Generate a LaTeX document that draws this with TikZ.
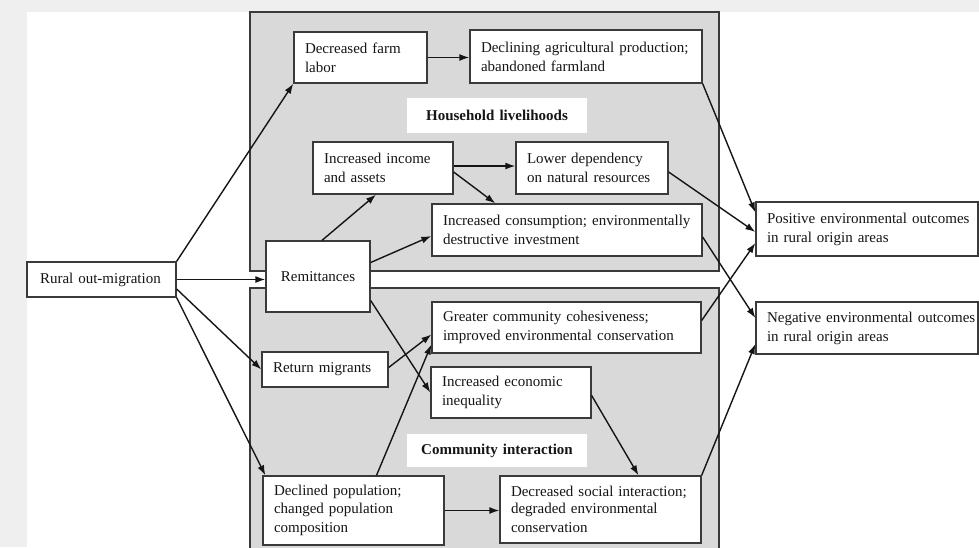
\documentclass[tikz,border=0pt]{standalone}
\usepackage{fontspec}
\setmainfont{Liberation Serif}
\usetikzlibrary{arrows.meta,calc}
\definecolor{outerbg}{HTML}{EFEFEF}
\definecolor{panel}{HTML}{D9D9D9}
\definecolor{edge}{HTML}{3A3A3A}
\definecolor{ink}{HTML}{151515}
\newcommand\bx[7][bx]{%
  \pgfmathsetmacro\bxw{#5-#3}%
  \pgfmathsetmacro\bxh{#6-#4}%
  \pgfmathsetmacro\bxtw{#5-#3-22}%
  \node[#1, minimum width=\bxw pt, minimum height=\bxh pt, text width=\bxtw pt]
    (#2) at ({(#3+#5)/2},{(#4+#6)/2}) {#7};}
\begin{document}
\begin{tikzpicture}[x=1pt,y=-1pt,
  bx/.style={draw=edge, line width=1.3pt, fill=white, inner xsep=11pt, inner ysep=0pt,
    align=left, font=\fontsize{15}{19}\selectfont, text=ink},
  bxc/.style={bx, align=center},
  lbl/.style={fill=white, inner xsep=11pt, inner ysep=0pt, align=center,
    font=\fontsize{15}{19}\selectfont\bfseries, text=ink},
  panelbox/.style={draw=edge, line width=1.4pt, fill=panel},
  arr/.style={draw=ink, line width=1.4pt, -{Latex[length=10pt,width=7pt]}}]
\useasboundingbox (0,0) rectangle (979,547);
\fill[outerbg] (0,0) rectangle (979,547);
\fill[white] (27,12) rectangle (979,547);
% panels
\path[panelbox] (250,12) rectangle (719,271);
\path[panelbox] (250,288) rectangle (719,560);
% labels
\bx[lbl]{hh}{407}{98}{587}{133}{Household livelihoods}
\bx[lbl]{ci}{407}{434}{587}{467}{Community interaction}
% boxes
\bx{rural}{27}{262}{176}{297}{\hspace*{2pt}Rural out-migration}
\bx[bxc]{remit}{266}{241}{370}{312}{Remittances}
\bx{farm}{294}{32}{427}{83}{Decreased farm\\labor}
\bx{agri}{470}{30}{702}{83}{\mbox{Declining agricultural production;}\\abandoned farmland}
\bx{income}{313}{142}{453}{194}{Increased income\\and assets}
\bx{lowdep}{516}{142}{668}{194}{Lower dependency\\\mbox{on natural resources}}
\bx{consum}{432}{204}{702}{256}{\mbox{Increased consumption; environmentally}\\destructive investment}
\bx{pos}{756}{202}{978}{256}{\mbox{Positive environmental outcomes}\\in rural origin areas}
\bx{neg}{756}{302}{978}{354}{\mbox{Negative environmental outcomes}\\in rural origin areas}
\bx{cohes}{432}{302}{701}{353}{\mbox{Greater community cohesiveness;}\\\mbox{improved environmental conservation}}
\bx{retmig}{262}{352}{388}{387}{Return migrants}
\bx{ineq}{431}{367}{591}{418}{Increased economic\\inequality}
\bx{declpop}{263}{476}{444}{545}{\fontsize{15}{17.5}\selectfont Declined population;\\changed population\\composition}
\bx{decsoc}{500}{476}{701}{543}{\fontsize{15}{17.5}\selectfont \mbox{Decreased social interaction;}\\degraded environmental\\conservation}
% arrows
\draw[arr] (rural.north east) -- (farm.south west);
\draw[arr] (rural.east) -- (rural.east -| remit.west);
\draw[arr] ([yshift=-9.5pt]rural.east) -- (retmig.west);
\draw[arr] (rural.south east) -- ([xshift=3pt]declpop.north west);
\draw[arr] (farm.east) -- (farm.east -| agri.west);
\draw[arr] (agri.south east) -- ([yshift=-11pt]pos.north west);
\draw[arr] ([xshift=4pt]remit.north) -- ([xshift=-7pt]income.south);
\draw[arr] ([yshift=14pt]remit.east) -- ([yshift=-6pt]consum.west);
\draw[arr] ([yshift=2pt]income.east) -- ([yshift=2pt]income.east -| lowdep.west);
\draw[arr] ([yshift=-4pt]income.east) -- ([xshift=64pt]consum.north west);
\draw[arr] ([yshift=-4pt]lowdep.east) -- ([yshift=-3pt]pos.west);
\draw[arr] ([yshift=-7pt]consum.east) -- ([yshift=10pt]neg.west);
\draw[arr] ([yshift=7pt]cohes.east) -- ([yshift=-14pt]pos.west);
\draw[arr] ([yshift=-24pt]remit.east) -- (ineq.west);
\draw[arr] ([yshift=2pt]retmig.east) -- ([yshift=-7pt]cohes.west);
\draw[arr] ([xshift=23pt]declpop.north) -- ([yshift=-17pt]cohes.west);
\draw[arr] (declpop.east) -- (declpop.east -| decsoc.west);
\draw[arr] ([yshift=-3pt]ineq.east) -- ([xshift=38pt]decsoc.north);
\draw[arr] (decsoc.north east) -- ([yshift=-16pt]neg.west);
\end{tikzpicture}
\end{document}
